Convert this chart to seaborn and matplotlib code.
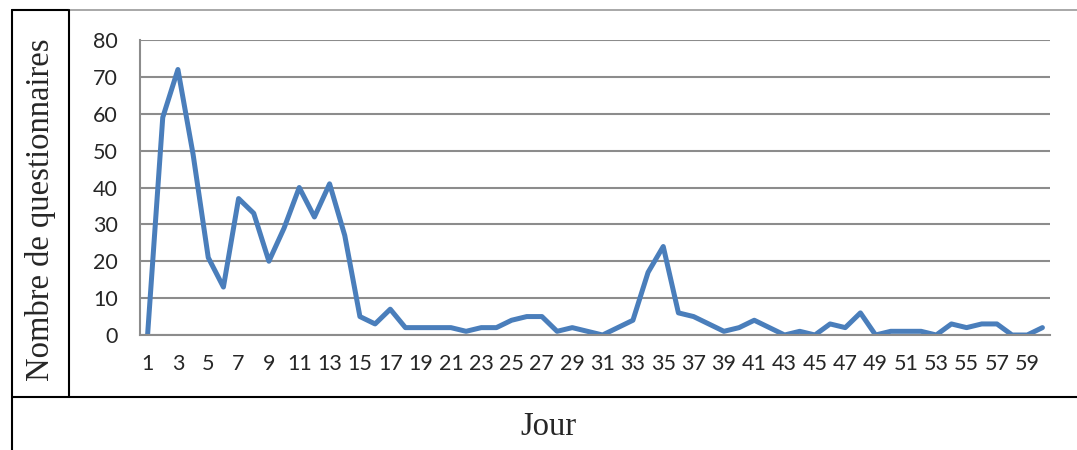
import numpy as np
import pandas as pd
import matplotlib
matplotlib.use("Agg")
import matplotlib.pyplot as plt
from matplotlib.lines import Line2D
import seaborn as sns

# ---------------- DATA ----------------
jours = list(range(1, 61))
questionnaires = [0, 59, 72, 49, 21, 13, 37, 33, 20, 29,
                  40, 32, 41, 27, 5, 3, 7, 2, 2, 2,
                  2, 1, 2, 2, 4, 5, 5, 1, 2, 1,
                  0, 2, 4, 17, 24, 6, 5, 3, 1, 2,
                  4, 2, 0, 1, 0, 3, 2, 6, 0, 1,
                  1, 1, 0, 3, 2, 3, 3, 0, 0, 2]
y_ticks = [0, 10, 20, 30, 40, 50, 60, 70, 80]
x_labels = [str(j) for j in jours if j % 2 == 1]

df = pd.DataFrame({"Jour": jours, "Nombre": questionnaires})

# ---------------- STYLE ----------------
sns.set_style("white")
plt.rcParams["font.family"] = ["Lato", "DejaVu Sans"]

W, H = 1077, 450
fig = plt.figure(figsize=(W / 100, H / 100), dpi=100)

def fx(px):
    return px / W

def fy(py):
    return 1 - py / H

ax = fig.add_axes([fx(140), fy(335), fx(1050) - fx(140), fy(40) - fy(335)])

sns.lineplot(data=df, x="Jour", y="Nombre", ax=ax, color="#4A7EBB", linewidth=3.6)

grid_col = "#8C8C8C"
ax.set_xlim(0.5, 60.5)
ax.set_ylim(0, 80)
ax.set_yticks(y_ticks)
ax.set_xticks([j for j in jours if j % 2 == 1])
ax.set_xticklabels(x_labels)
ax.set_xticks(np.arange(0.5, 61, 1), minor=True)
ax.yaxis.grid(True, color=grid_col, linewidth=1.5)
ax.set_axisbelow(True)
for side in ["top", "right"]:
    ax.spines[side].set_visible(False)
for side in ["left", "bottom"]:
    ax.spines[side].set_color(grid_col)
    ax.spines[side].set_linewidth(1.5)
ax.tick_params(axis="y", length=7, width=1.5, color=grid_col, labelsize=15.5, pad=9)
ax.tick_params(axis="x", which="major", length=0, labelsize=15.5, pad=14)
ax.tick_params(axis="x", which="minor", length=7, width=1.5, color=grid_col)
ax.set_xlabel("")
ax.set_ylabel("")

# ---------------- FRAME ----------------
def hline(y, x0, x1, color="black", lw=1.5):
    fig.add_artist(Line2D([fx(x0), fx(x1)], [fy(y), fy(y)], color=color, linewidth=lw))

def vline(x, y0, y1, color="black", lw=1.5):
    fig.add_artist(Line2D([fx(x), fx(x)], [fy(y0), fy(y1)], color=color, linewidth=lw))

hline(10, 12, 69)
hline(10, 69, W, color="#9A9A9A", lw=1.2)
hline(397, 12, W)
vline(12, 10, H)
vline(69, 10, 397)

fig.text(fx(41), fy(210), "Nombre de questionnaires", rotation=90,
         ha="center", va="center", fontsize=23.5, family=["Liberation Serif"])
fig.text(fx(548), fy(427), "Jour", ha="center", va="center",
         fontsize=23.5, family=["Liberation Serif"])

fig.savefig("out.png", dpi=100)
